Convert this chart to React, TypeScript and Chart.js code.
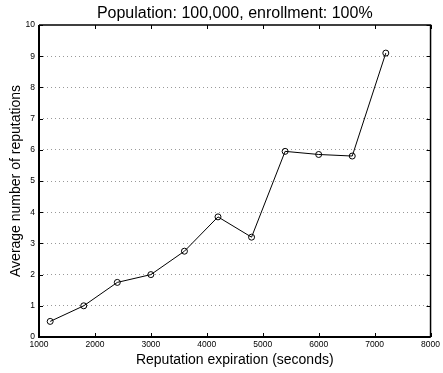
import { useEffect, useRef } from "react";
import { Chart, registerables } from "chart.js";
Chart.register(...registerables);

const expiration = [1200, 1800, 2400, 3000, 3600, 4200, 4800, 5400, 6000, 6600, 7200];
const avgReputations = [0.5, 1.0, 1.75, 2.0, 2.75, 3.85, 3.2, 5.95, 5.85, 5.8, 9.1];
const xRange = [1000, 8000];
const yRange = [0, 10];
const titleText = "Population: 100,000, enrollment: 100%";
const xLabel = "Reputation expiration (seconds)";
const yLabel = "Average number of reputations";

const FONT = "'Liberation Sans', Arial, Helvetica, sans-serif";

const framePlugin = {
  id: "frameTicks",
  afterDatasetsDraw(chart: any) {
    const { ctx, chartArea } = chart;
    const { left, right, top, bottom } = chartArea;
    const xs = chart.scales.x;
    const ys = chart.scales.y;
    ctx.save();
    ctx.strokeStyle = "#000";
    ctx.lineWidth = 1;
    const tl = 4;
    ctx.beginPath();
    xs.ticks.forEach((t: any) => {
      const px = Math.round(xs.getPixelForValue(t.value)) + 0.5;
      ctx.moveTo(px, bottom);
      ctx.lineTo(px, bottom - tl);
      ctx.moveTo(px, top);
      ctx.lineTo(px, top + tl);
    });
    ys.ticks.forEach((t: any) => {
      const py = Math.round(ys.getPixelForValue(t.value)) + 0.5;
      ctx.moveTo(left, py);
      ctx.lineTo(left + tl, py);
      ctx.moveTo(right, py);
      ctx.lineTo(right - tl, py);
    });
    ctx.stroke();
    ctx.lineWidth = 1.5;
    ctx.beginPath();
    ctx.moveTo(left, top);
    ctx.lineTo(right, top);
    ctx.lineTo(right, bottom);
    ctx.stroke();
    ctx.lineWidth = 2;
    ctx.beginPath();
    ctx.moveTo(left, top);
    ctx.lineTo(left, bottom);
    ctx.lineTo(right, bottom);
    ctx.stroke();
    ctx.restore();
  },
};

export default function App() {
  const ref = useRef<HTMLCanvasElement>(null);
  useEffect(() => {
    document.body.style.margin = "0";
    const canvas = ref.current;
    if (!canvas) return;
    const chart = new Chart(canvas, {
      type: "line",
      data: {
        datasets: [
          {
            data: expiration.map((x, i) => ({ x, y: avgReputations[i] })),
            borderColor: "#000",
            borderWidth: 1,
            pointRadius: 3,
            pointBorderWidth: 1,
            pointBorderColor: "#000",
            pointBackgroundColor: "rgba(0,0,0,0)",
            fill: false,
            tension: 0,
          },
        ],
      },
      options: {
        responsive: false,
        animation: false,
        events: [],
        layout: { padding: { right: 10, left: 0, top: 0, bottom: 0 } },
        plugins: {
          legend: { display: false },
          tooltip: { enabled: false },
          title: {
            display: true,
            text: titleText,
            fullSize: false,
            color: "#000",
            font: { family: FONT, size: 16, weight: "normal" },
            padding: { top: 4, bottom: 1.8 },
          },
        },
        scales: {
          x: {
            type: "linear",
            min: xRange[0],
            max: xRange[1],
            grid: { display: false, drawTicks: false },
            border: { display: false },
            ticks: {
              stepSize: 1000,
              color: "#000",
              font: { family: FONT, size: 8.5 },
              padding: 3,
              maxRotation: 0,
              callback: (v: any) => String(v),
            },
            title: {
              display: true,
              text: xLabel,
              color: "#000",
              font: { family: FONT, size: 14 },
              padding: { top: 0, bottom: 4 },
            },
            afterFit: (s: any) => {
              s.height = 36;
            },
          },
          y: {
            type: "linear",
            min: yRange[0],
            max: yRange[1],
            grid: {
              drawTicks: false,
              color: (c: any) =>
                c.tick && (c.tick.value === yRange[0] || c.tick.value === yRange[1])
                  ? "rgba(0,0,0,0)"
                  : "#999",
              lineWidth: 1,
            },
            border: { display: false, dash: [1, 3] },
            ticks: {
              stepSize: 1,
              color: "#000",
              font: { family: FONT, size: 8.5 },
              padding: 4,
              callback: (v: any) => String(v),
            },
            title: {
              display: true,
              text: yLabel,
              color: "#000",
              font: { family: FONT, size: 14 },
              padding: { top: 8, bottom: 0 },
            },
            afterFit: (s: any) => {
              s.width = 39;
            },
          },
        },
      },
      plugins: [framePlugin],
    });
    return () => chart.destroy();
  }, []);
  return <canvas ref={ref} width={443} height={373} style={{ display: "block" }} />;
}
